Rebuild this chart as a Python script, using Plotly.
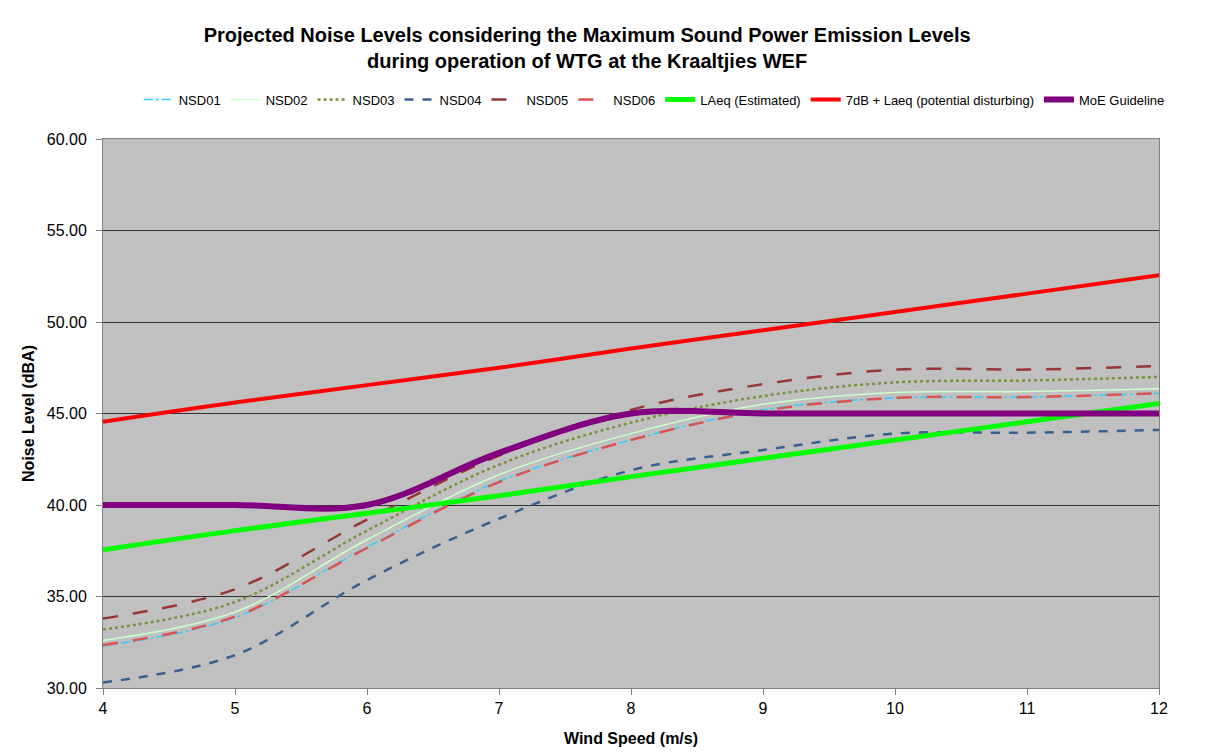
import plotly.graph_objects as go

wind_speed = [4, 5, 6, 7, 8, 9, 10, 11, 12]

nsd01 = [32.3, 33.85, 37.7, 41.3, 43.55, 45.2, 45.85, 45.9, 46.1]
nsd02 = [32.6, 34.15, 38.1, 41.65, 43.9, 45.5, 46.15, 46.2, 46.35]
nsd03 = [33.2, 34.7, 38.6, 42.2, 44.5, 45.95, 46.7, 46.8, 47.0]
nsd04 = [30.3, 31.8, 35.9, 39.25, 41.9, 43.0, 43.9, 43.95, 44.1]
nsd05 = [33.8, 35.4, 39.2, 42.7, 45.2, 46.6, 47.4, 47.4, 47.6]
nsd06 = [32.35, 33.9, 37.65, 41.25, 43.55, 45.15, 45.85, 45.9, 46.1]
laeq = [37.55, 38.6, 39.55, 40.5, 41.55, 42.55, 43.55, 44.55, 45.55]
laeq_plus7 = [44.55, 45.6, 46.55, 47.5, 48.55, 49.55, 50.55, 51.55, 52.55]
moe_guideline = [40, 40, 40, 42.85, 45, 45, 45, 45, 45]

series = [
    ("NSD01", nsd01, "#33CCFF", 1.5, "dashdot"),
    ("NSD02", nsd02, "#CCFFCC", 1.5, "solid"),
    ("NSD03", nsd03, "#77933C", 2.5, "dot"),
    ("NSD04", nsd04, "#376092", 2.5, "dash"),
    ("NSD05", nsd05, "#953735", 2.5, "longdash"),
    ("NSD06", nsd06, "#D9534F", 2.5, "longdash"),
    ("LAeq (Estimated)", laeq, "#00FF00", 5, "solid"),
    ("7dB + Laeq (potential disturbing)", laeq_plus7, "#FF0000", 4, "solid"),
    ("MoE Guideline", moe_guideline, "#800080", 6, "solid"),
]

fig = go.Figure()
for name, vals, colour, w, dash in series:
    fig.add_trace(go.Scatter(
        x=wind_speed, y=vals, name=name, mode="lines",
        line=dict(color=colour, width=w, dash=dash, shape="spline", smoothing=1),
    ))

# page is offset 8px by the body margin, so the figure is a bit smaller
fig.update_layout(
    width=1204, height=748,
    paper_bgcolor="white", plot_bgcolor="#C0C0C0",
    font=dict(family="Liberation Sans, Arial", size=14, color="black"),
    margin=dict(l=95, r=53, t=131, b=68),
    title=dict(
        text="<b>Projected Noise Levels considering the Maximum Sound Power Emission Levels<br>during operation of WTG at the Kraaltjies WEF</b>",
        x=0.481, xanchor="center", y=0.955, yanchor="middle",
        font=dict(size=20),
    ),
    legend=dict(
        orientation="h", x=0.522, xanchor="center", y=1.072, yanchor="middle",
        font=dict(size=13), bgcolor="rgba(0,0,0,0)",
        itemwidth=30, tracegroupgap=0,
    ),
    showlegend=True,
)

fig.update_xaxes(
    range=[4, 12], dtick=1, tick0=4,
    showgrid=False, zeroline=False,
    showline=True, linecolor="#808080", linewidth=1, mirror=True,
    ticks="outside", ticklen=6, tickcolor="#808080",
    tickfont=dict(size=16),
    title=dict(text="<b>Wind Speed (m/s)</b>", font=dict(size=16), standoff=16),
)
fig.update_yaxes(
    range=[30, 60], dtick=5, tick0=30, tickformat=".2f",
    showgrid=True, gridcolor="#333333", gridwidth=1, zeroline=False,
    showline=True, linecolor="#808080", linewidth=1, mirror=True,
    ticks="outside", ticklen=6, tickcolor="#808080", ticklabelstandoff=6,
    tickfont=dict(size=16),
    title=dict(text="<b>Noise Level (dBA)</b>", font=dict(size=16), standoff=8),
)

fig.write_html("out.html")
